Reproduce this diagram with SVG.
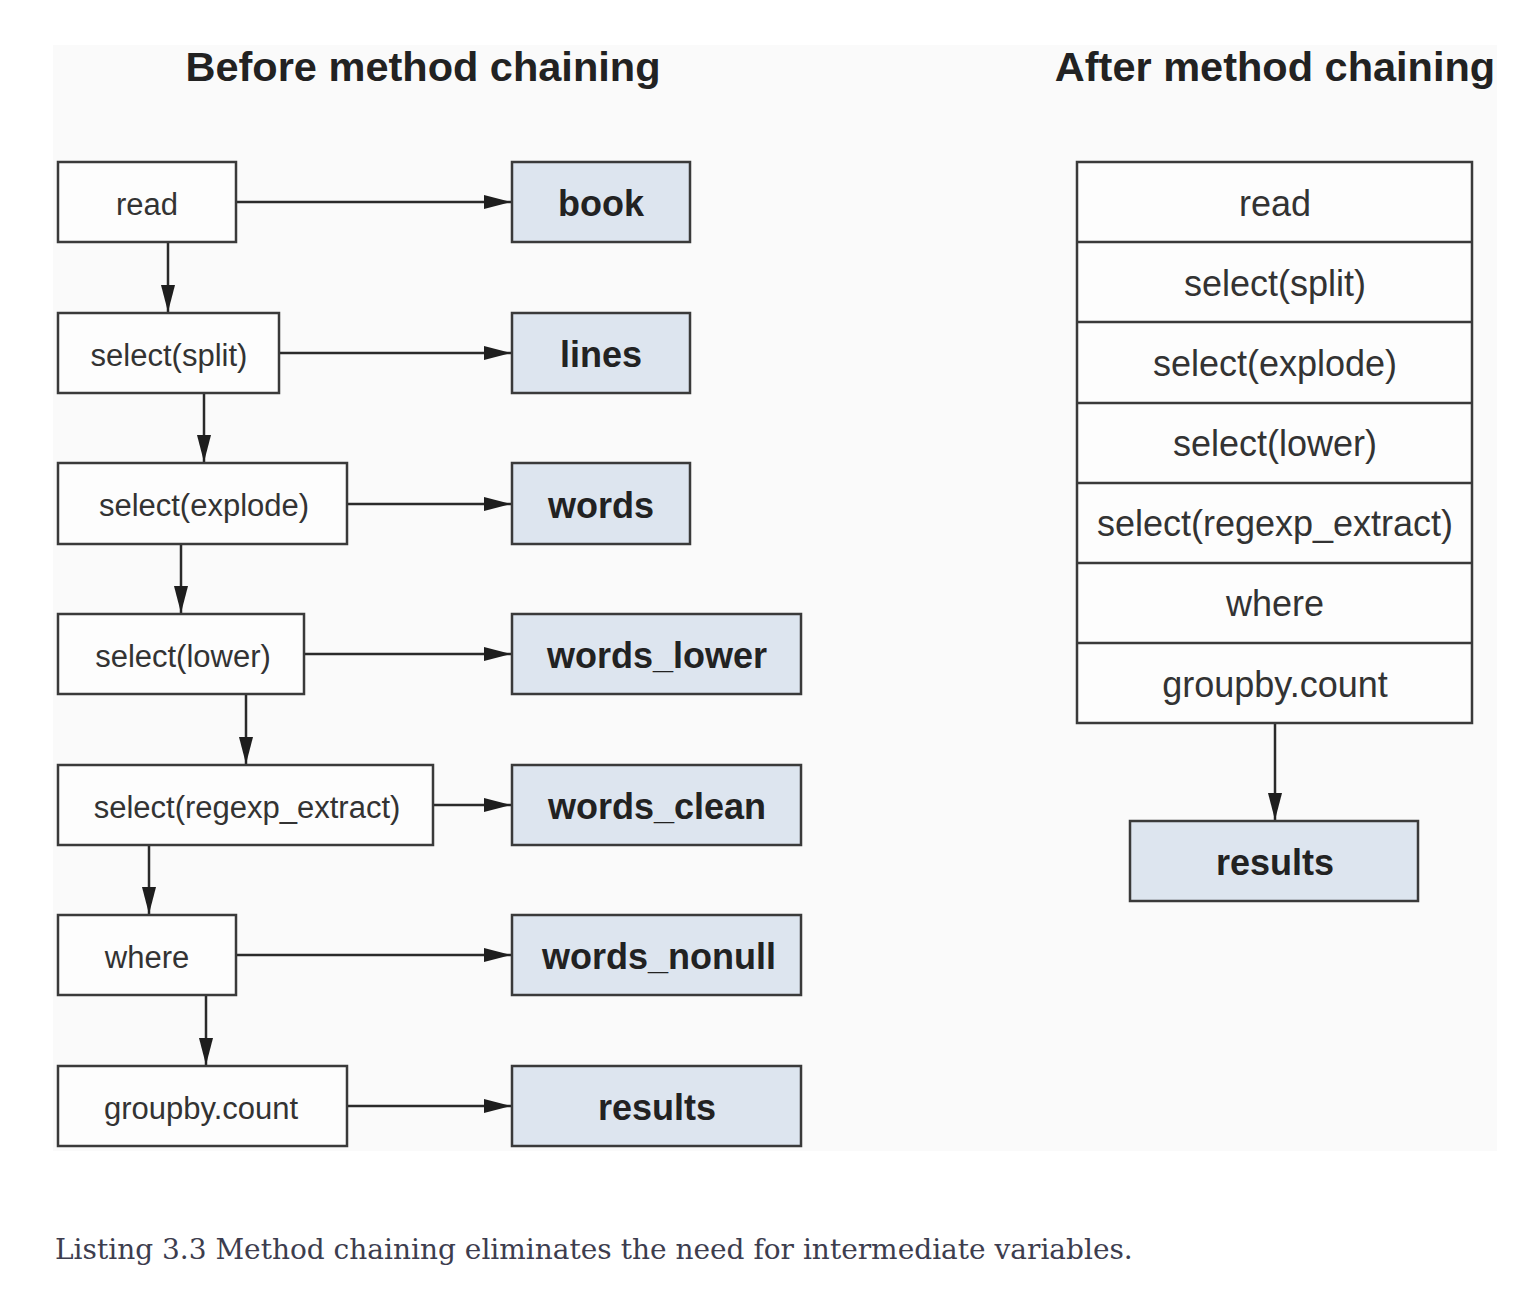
<svg xmlns="http://www.w3.org/2000/svg" width="1517" height="1310" viewBox="0 0 1517 1310">
<style>
.op{fill:#fdfdfd;stroke:#3a3a3a;stroke-width:2.5}
.var{fill:#dde5ef;stroke:#3a3a3a;stroke-width:2.5}
.t{font-family:"Liberation Sans",Arial,sans-serif;font-size:31px;fill:#333;text-anchor:middle;dominant-baseline:central}
.tr{font-family:"Liberation Sans",Arial,sans-serif;font-size:36px;fill:#333;text-anchor:middle;dominant-baseline:central}
.tb{font-family:"Liberation Sans",Arial,sans-serif;font-size:36px;font-weight:bold;fill:#222;text-anchor:middle;dominant-baseline:central}
.title{font-family:"Liberation Sans",Arial,sans-serif;font-size:41.5px;font-weight:bold;fill:#222;text-anchor:middle}
.c{stroke:#2a2a2a;stroke-width:2.5;fill:none;marker-end:url(#ah)}
.cap{font-family:"DejaVu Serif",serif;font-size:28px;fill:#3d3d4e}
</style>
<defs>
<marker id="ah" markerWidth="28" markerHeight="16" refX="27" refY="8" orient="auto" markerUnits="userSpaceOnUse">
<path d="M0,1 L27,8 L0,15 Z" fill="#1e1e1e"/>
</marker>
</defs>
<rect width="1517" height="1310" fill="#ffffff"/>
<rect x="53" y="45" width="1444" height="1106" fill="#fafafa"/>
<text class="title" x="423" y="81">Before method chaining</text>
<text class="title" x="1275" y="81">After method chaining</text>

<g id="connectors">
<line class="c" x1="236" y1="202" x2="511" y2="202"/>
<line class="c" x1="279" y1="353" x2="511" y2="353"/>
<line class="c" x1="347" y1="504" x2="511" y2="504"/>
<line class="c" x1="304" y1="654" x2="511" y2="654"/>
<line class="c" x1="433" y1="805" x2="511" y2="805"/>
<line class="c" x1="236" y1="955" x2="511" y2="955"/>
<line class="c" x1="347" y1="1106" x2="511" y2="1106"/>
<line class="c" x1="168" y1="242" x2="168" y2="312"/>
<line class="c" x1="204" y1="393" x2="204" y2="462"/>
<line class="c" x1="181" y1="544" x2="181" y2="613"/>
<line class="c" x1="246" y1="694" x2="246" y2="764"/>
<line class="c" x1="149" y1="845" x2="149" y2="914"/>
<line class="c" x1="206" y1="995" x2="206" y2="1065"/>
<line class="c" x1="1275" y1="723" x2="1275" y2="820"/>
</g>

<g id="read"><rect class="op" x="58" y="162" width="178" height="80"/><text class="t" x="147" y="204">read</text></g>
<g id="select-split"><rect class="op" x="58" y="313" width="221" height="80"/><text class="t" x="169" y="355">select(split)</text></g>
<g id="select-explode"><rect class="op" x="58" y="463" width="289" height="81"/><text class="t" x="204" y="505">select(explode)</text></g>
<g id="select-lower"><rect class="op" x="58" y="614" width="246" height="80"/><text class="t" x="183" y="656">select(lower)</text></g>
<g id="select-regexp"><rect class="op" x="58" y="765" width="375" height="80"/><text class="t" x="247" y="807">select(regexp_extract)</text></g>
<g id="where"><rect class="op" x="58" y="915" width="178" height="80"/><text class="t" x="147" y="957">where</text></g>
<g id="groupby-count"><rect class="op" x="58" y="1066" width="289" height="80"/><text class="t" x="201" y="1108">groupby.count</text></g>

<g id="book"><rect class="var" x="512" y="162" width="178" height="80"/><text class="tb" x="601" y="203">book</text></g>
<g id="lines"><rect class="var" x="512" y="313" width="178" height="80"/><text class="tb" x="601" y="354">lines</text></g>
<g id="words"><rect class="var" x="512" y="463" width="178" height="81"/><text class="tb" x="601" y="505">words</text></g>
<g id="words_lower"><rect class="var" x="512" y="614" width="289" height="80"/><text class="tb" x="657" y="655">words_lower</text></g>
<g id="words_clean"><rect class="var" x="512" y="765" width="289" height="80"/><text class="tb" x="657" y="806">words_clean</text></g>
<g id="words_nonull"><rect class="var" x="512" y="915" width="289" height="80"/><text class="tb" x="659" y="956">words_nonull</text></g>
<g id="results-left"><rect class="var" x="512" y="1066" width="289" height="80"/><text class="tb" x="657" y="1107">results</text></g>

<g id="chain">
<rect class="op" x="1077" y="162" width="395" height="561"/>
<line stroke="#3a3a3a" stroke-width="2.5" x1="1077" y1="242" x2="1472" y2="242"/>
<line stroke="#3a3a3a" stroke-width="2.5" x1="1077" y1="322" x2="1472" y2="322"/>
<line stroke="#3a3a3a" stroke-width="2.5" x1="1077" y1="403" x2="1472" y2="403"/>
<line stroke="#3a3a3a" stroke-width="2.5" x1="1077" y1="483" x2="1472" y2="483"/>
<line stroke="#3a3a3a" stroke-width="2.5" x1="1077" y1="563" x2="1472" y2="563"/>
<line stroke="#3a3a3a" stroke-width="2.5" x1="1077" y1="643" x2="1472" y2="643"/>
<text class="tr" x="1275" y="203">read</text>
<text class="tr" x="1275" y="283">select(split)</text>
<text class="tr" x="1275" y="363">select(explode)</text>
<text class="tr" x="1275" y="443">select(lower)</text>
<text class="tr" x="1275" y="523">select(regexp_extract)</text>
<text class="tr" x="1275" y="603">where</text>
<text class="tr" x="1275" y="684">groupby.count</text>
</g>
<g id="results-right"><rect class="var" x="1130" y="821" width="288" height="80"/><text class="tb" x="1275" y="862">results</text></g>

<text class="cap" x="55" y="1259">Listing 3.3 Method chaining eliminates the need for intermediate variables.</text>
</svg>
